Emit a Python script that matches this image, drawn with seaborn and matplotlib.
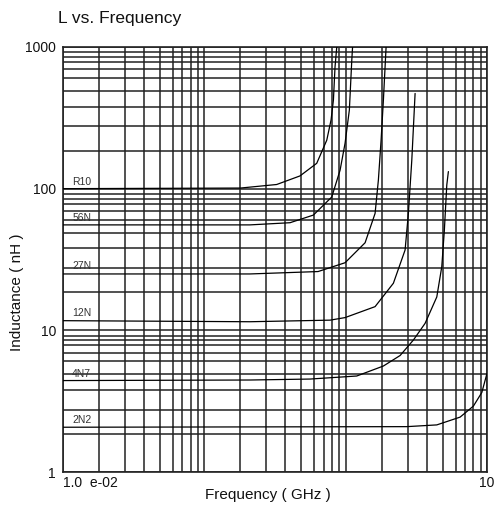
import numpy as np
import pandas as pd
import matplotlib
matplotlib.use("Agg")
import matplotlib.pyplot as plt
import seaborn as sns
from matplotlib.ticker import FixedLocator, NullFormatter

# curve data (GHz, nH)
part_names = ["R10", "56N", "27N", "12N", "4N7", "2N2"]

r10_freq = [0.01, 0.18, 0.325, 0.475, 0.624, 0.735, 0.788, 0.819, 0.841, 0.865]
r10_ind = [100, 101, 107, 123, 151, 220, 305, 422, 725, 1000]

n56_freq = [0.01, 0.21, 0.404, 0.591, 0.797, 0.913, 0.990, 1.062, 1.105, 1.119]
n56_ind = [55.5, 55.5, 57.5, 65.1, 87.3, 135, 209, 359, 808, 1000]

n27_freq = [0.01, 0.21, 0.638, 0.990, 1.372, 1.615, 1.704, 1.781, 1.849, 1.932]
n27_ind = [25, 25, 26, 30, 41.5, 66.9, 115, 220, 422, 1000]

n12_freq = [0.01, 0.21, 0.776, 0.990, 1.615, 2.176, 2.633, 2.778, 2.937, 3.099]
n12_ind = [11.7, 11.5, 11.8, 12.3, 14.7, 21.5, 36.9, 66.9, 159, 470]

n4n7_freq = [0.01, 0.21, 0.560, 1.198, 1.849, 2.427, 3.014, 3.647, 4.413, 4.786, 4.993, 5.193, 5.33]
n4n7_ind = [4.42, 4.46, 4.53, 4.76, 5.60, 6.64, 8.54, 11.2, 17.2, 28.1, 51.0, 106, 132]

n2n2_freq = [0.01, 2.706, 4.413, 6.451, 8.015, 9.19, 10.0]
n2n2_ind = [2.07, 2.09, 2.15, 2.44, 2.92, 3.64, 4.97]

label_freq = 0.0116
label_ind = [112, 61.7, 28.4, 13.2, 4.92, 2.33]

# grid spacing used on the printed chart (multiples inside each decade)
grid_steps_x = [1.8, 2.75, 3.75, 4.85, 6.0, 7.0, 8.0, 9.0]
grid_steps_y = [1.85, 2.75, 3.8, 4.9, 6.05, 6.95, 7.85, 8.5, 9.15]

freqs = [r10_freq, n56_freq, n27_freq, n12_freq, n4n7_freq, n2n2_freq]
inds = [r10_ind, n56_ind, n27_ind, n12_ind, n4n7_ind, n2n2_ind]
df = pd.concat(
    [pd.DataFrame({"freq": f, "ind": l, "part": p}) for f, l, p in zip(freqs, inds, part_names)],
    ignore_index=True,
)

sns.set_style("white")
plt.rcParams["font.family"] = ["Liberation Sans", "DejaVu Sans"]

fig = plt.figure(figsize=(4.99, 5.15), dpi=100)
ax = fig.add_axes([63 / 499, 1 - 472 / 515, 424 / 499, 425 / 515])

sns.lineplot(data=df, x="freq", y="ind", units="part", estimator=None, sort=False,
             color="black", lw=0.9, ax=ax, legend=False, zorder=3)

ax.set_xscale("log")
ax.set_yscale("log")
ax.set_xlim(0.01, 10)
ax.set_ylim(1, 1000)

ax.set_xticks([0.01, 10])
ax.set_xticklabels(["1.0  e-02", "10"])
ax.get_xticklabels()[0].set_horizontalalignment("left")
ax.set_yticks([1, 10, 100, 1000])
ax.set_yticklabels(["1", "10", "100", "1000"])

xminor = [d * s for d in (0.01, 0.1, 1) for s in grid_steps_x] + [0.1, 1]
yminor = [d * s for d in (1, 10, 100) for s in grid_steps_y]
ax.xaxis.set_minor_locator(FixedLocator(xminor))
ax.yaxis.set_minor_locator(FixedLocator(yminor))
ax.xaxis.set_minor_formatter(NullFormatter())
ax.yaxis.set_minor_formatter(NullFormatter())
ax.grid(which="both", color="#222222", lw=1.1)
ax.tick_params(which="both", length=0, labelsize=10, colors="#111111")
ax.tick_params(axis="y", pad=5)
ax.tick_params(axis="x", pad=3)

for sp in ax.spines.values():
    sp.set_color("#222222")
    sp.set_linewidth(1.2)

for name, y in zip(part_names, label_ind):
    ax.text(label_freq, y, name, fontsize=7.5, color="#333333", va="center", ha="left", zorder=4)

ax.set_xlabel("Frequency ( GHz )", fontsize=11, color="#111111")
ax.xaxis.set_label_coords((268 - 63) / 424, -0.038)
ax.set_ylabel("Inductance ( nH )", fontsize=11, color="#111111")
ax.yaxis.set_label_coords((24 - 63) / 424, (472 - 292) / 425)

fig.text(58 / 499, 1 - 18 / 515, "L vs. Frequency", fontsize=12.5, ha="left", va="center", color="#111111")

fig.savefig("out.png", dpi=100)
